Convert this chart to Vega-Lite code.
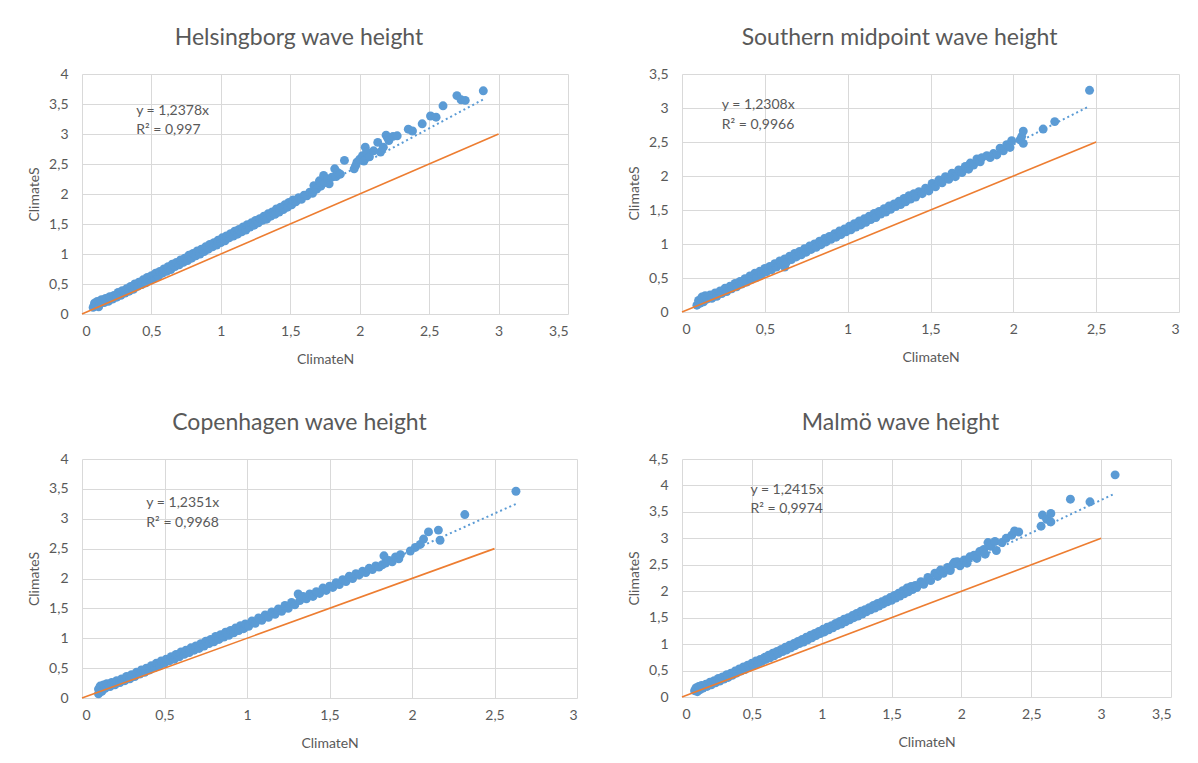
{
  "$schema": "https://vega.github.io/schema/vega-lite/v6.json",
  "background": "white",
  "padding": {"left": 27, "top": 27, "right": 5, "bottom": 5},
  "columns": 2,
  "bounds": "flush",
  "spacing": {"column": 105, "row": 145},
  "config": {
    "font": "Lato",
    "view": {"stroke": null},
    "axis": {
      "grid": true, "gridColor": "#d9d9d9", "gridWidth": 1,
      "domain": false, "ticks": false, "labelOverlap": false,
      "labelColor": "#595959", "labelFontSize": 14,
      "titleColor": "#595959", "titleFontSize": 14, "titleFontWeight": "normal"
    },
    "axisX": {"titlePadding": 14, "labelPadding": 10},
    "axisY": {"titlePadding": 7, "labelPadding": 14},
    "title": {"fontSize": 23, "fontWeight": "normal", "color": "#595959", "offset": 17, "anchor": "middle"}
  },
  "datasets": {
    "waves": [
      {"site":"HBG","ClimateN":0.08,"ClimateS":0.11},{"site":"HBG","ClimateN":0.09,"ClimateS":0.18},{"site":"HBG","ClimateN":0.10,"ClimateS":0.14},{"site":"HBG","ClimateN":0.11,"ClimateS":0.21},{"site":"HBG","ClimateN":0.12,"ClimateS":0.12},{"site":"HBG","ClimateN":0.13,"ClimateS":0.17},{"site":"HBG","ClimateN":0.14,"ClimateS":0.24},{"site":"HBG","ClimateN":0.16,"ClimateS":0.19},{"site":"HBG","ClimateN":0.17,"ClimateS":0.26},{"site":"HBG","ClimateN":0.19,"ClimateS":0.21},{"site":"HBG","ClimateN":0.20,"ClimateS":0.29},{"site":"HBG","ClimateN":0.22,"ClimateS":0.25},{"site":"HBG","ClimateN":0.23,"ClimateS":0.31},{"site":"HBG","ClimateN":0.25,"ClimateS":0.28},{"site":"HBG","ClimateN":0.26,"ClimateS":0.36},{"site":"HBG","ClimateN":0.28,"ClimateS":0.31},{"site":"HBG","ClimateN":0.29,"ClimateS":0.39},{"site":"HBG","ClimateN":0.31,"ClimateS":0.35},{"site":"HBG","ClimateN":0.32,"ClimateS":0.42},{"site":"HBG","ClimateN":0.34,"ClimateS":0.38},{"site":"HBG","ClimateN":0.35,"ClimateS":0.46},{"site":"HBG","ClimateN":0.37,"ClimateS":0.41},{"site":"HBG","ClimateN":0.38,"ClimateS":0.50},{"site":"HBG","ClimateN":0.40,"ClimateS":0.46},{"site":"HBG","ClimateN":0.41,"ClimateS":0.53},{"site":"HBG","ClimateN":0.43,"ClimateS":0.49},{"site":"HBG","ClimateN":0.44,"ClimateS":0.57},{"site":"HBG","ClimateN":0.46,"ClimateS":0.52},{"site":"HBG","ClimateN":0.47,"ClimateS":0.61},{"site":"HBG","ClimateN":0.49,"ClimateS":0.56},{"site":"HBG","ClimateN":0.50,"ClimateS":0.64},{"site":"HBG","ClimateN":0.52,"ClimateS":0.60},{"site":"HBG","ClimateN":0.53,"ClimateS":0.68},{"site":"HBG","ClimateN":0.55,"ClimateS":0.63},{"site":"HBG","ClimateN":0.56,"ClimateS":0.71},{"site":"HBG","ClimateN":0.58,"ClimateS":0.68},{"site":"HBG","ClimateN":0.59,"ClimateS":0.75},{"site":"HBG","ClimateN":0.61,"ClimateS":0.71},{"site":"HBG","ClimateN":0.62,"ClimateS":0.79},{"site":"HBG","ClimateN":0.64,"ClimateS":0.74},{"site":"HBG","ClimateN":0.65,"ClimateS":0.83},{"site":"HBG","ClimateN":0.67,"ClimateS":0.79},{"site":"HBG","ClimateN":0.68,"ClimateS":0.86},{"site":"HBG","ClimateN":0.70,"ClimateS":0.82},{"site":"HBG","ClimateN":0.71,"ClimateS":0.90},{"site":"HBG","ClimateN":0.73,"ClimateS":0.86},{"site":"HBG","ClimateN":0.74,"ClimateS":0.93},{"site":"HBG","ClimateN":0.76,"ClimateS":0.89},{"site":"HBG","ClimateN":0.77,"ClimateS":0.98},{"site":"HBG","ClimateN":0.79,"ClimateS":0.93},{"site":"HBG","ClimateN":0.80,"ClimateS":1.01},{"site":"HBG","ClimateN":0.82,"ClimateS":0.97},{"site":"HBG","ClimateN":0.83,"ClimateS":1.05},{"site":"HBG","ClimateN":0.85,"ClimateS":1.00},{"site":"HBG","ClimateN":0.86,"ClimateS":1.08},{"site":"HBG","ClimateN":0.88,"ClimateS":1.04},{"site":"HBG","ClimateN":0.89,"ClimateS":1.12},{"site":"HBG","ClimateN":0.91,"ClimateS":1.08},{"site":"HBG","ClimateN":0.92,"ClimateS":1.16},{"site":"HBG","ClimateN":0.94,"ClimateS":1.12},{"site":"HBG","ClimateN":0.95,"ClimateS":1.19},{"site":"HBG","ClimateN":0.97,"ClimateS":1.15},{"site":"HBG","ClimateN":0.98,"ClimateS":1.23},{"site":"HBG","ClimateN":1.00,"ClimateS":1.19},{"site":"HBG","ClimateN":1.01,"ClimateS":1.27},{"site":"HBG","ClimateN":1.03,"ClimateS":1.22},{"site":"HBG","ClimateN":1.04,"ClimateS":1.30},{"site":"HBG","ClimateN":1.06,"ClimateS":1.27},{"site":"HBG","ClimateN":1.07,"ClimateS":1.34},{"site":"HBG","ClimateN":1.09,"ClimateS":1.30},{"site":"HBG","ClimateN":1.10,"ClimateS":1.38},{"site":"HBG","ClimateN":1.12,"ClimateS":1.33},{"site":"HBG","ClimateN":1.13,"ClimateS":1.41},{"site":"HBG","ClimateN":1.15,"ClimateS":1.37},{"site":"HBG","ClimateN":1.16,"ClimateS":1.45},{"site":"HBG","ClimateN":1.18,"ClimateS":1.40},{"site":"HBG","ClimateN":1.19,"ClimateS":1.49},{"site":"HBG","ClimateN":1.21,"ClimateS":1.45},{"site":"HBG","ClimateN":1.22,"ClimateS":1.52},{"site":"HBG","ClimateN":1.24,"ClimateS":1.48},{"site":"HBG","ClimateN":1.25,"ClimateS":1.56},{"site":"HBG","ClimateN":1.27,"ClimateS":1.52},{"site":"HBG","ClimateN":1.28,"ClimateS":1.59},{"site":"HBG","ClimateN":1.30,"ClimateS":1.56},{"site":"HBG","ClimateN":1.31,"ClimateS":1.63},{"site":"HBG","ClimateN":1.33,"ClimateS":1.58},{"site":"HBG","ClimateN":1.34,"ClimateS":1.67},{"site":"HBG","ClimateN":1.36,"ClimateS":1.63},{"site":"HBG","ClimateN":1.37,"ClimateS":1.70},{"site":"HBG","ClimateN":1.39,"ClimateS":1.66},{"site":"HBG","ClimateN":1.40,"ClimateS":1.75},{"site":"HBG","ClimateN":1.42,"ClimateS":1.70},{"site":"HBG","ClimateN":1.43,"ClimateS":1.78},{"site":"HBG","ClimateN":1.45,"ClimateS":1.74},{"site":"HBG","ClimateN":1.46,"ClimateS":1.82},{"site":"HBG","ClimateN":1.48,"ClimateS":1.78},{"site":"HBG","ClimateN":1.49,"ClimateS":1.86},{"site":"HBG","ClimateN":1.51,"ClimateS":1.82},{"site":"HBG","ClimateN":1.52,"ClimateS":1.90},{"site":"HBG","ClimateN":1.54,"ClimateS":1.87},{"site":"HBG","ClimateN":1.56,"ClimateS":1.94},{"site":"HBG","ClimateN":1.58,"ClimateS":1.91},{"site":"HBG","ClimateN":1.60,"ClimateS":1.98},{"site":"HBG","ClimateN":1.62,"ClimateS":1.97},{"site":"HBG","ClimateN":1.64,"ClimateS":2.03},{"site":"HBG","ClimateN":1.66,"ClimateS":2.01},{"site":"HBG","ClimateN":1.67,"ClimateS":2.14},{"site":"HBG","ClimateN":1.69,"ClimateS":2.08},{"site":"HBG","ClimateN":1.71,"ClimateS":2.22},{"site":"HBG","ClimateN":1.72,"ClimateS":2.13},{"site":"HBG","ClimateN":1.74,"ClimateS":2.31},{"site":"HBG","ClimateN":1.75,"ClimateS":2.19},{"site":"HBG","ClimateN":1.77,"ClimateS":2.25},{"site":"HBG","ClimateN":1.78,"ClimateS":2.17},{"site":"HBG","ClimateN":1.80,"ClimateS":2.28},{"site":"HBG","ClimateN":1.82,"ClimateS":2.42},{"site":"HBG","ClimateN":1.83,"ClimateS":2.29},{"site":"HBG","ClimateN":1.84,"ClimateS":2.36},{"site":"HBG","ClimateN":1.86,"ClimateS":2.33},{"site":"HBG","ClimateN":1.89,"ClimateS":2.56},{"site":"HBG","ClimateN":1.96,"ClimateS":2.42},{"site":"HBG","ClimateN":1.97,"ClimateS":2.47},{"site":"HBG","ClimateN":1.98,"ClimateS":2.53},{"site":"HBG","ClimateN":2.00,"ClimateS":2.58},{"site":"HBG","ClimateN":2.02,"ClimateS":2.64},{"site":"HBG","ClimateN":2.03,"ClimateS":2.55},{"site":"HBG","ClimateN":2.04,"ClimateS":2.78},{"site":"HBG","ClimateN":2.05,"ClimateS":2.70},{"site":"HBG","ClimateN":2.07,"ClimateS":2.62},{"site":"HBG","ClimateN":2.10,"ClimateS":2.72},{"site":"HBG","ClimateN":2.13,"ClimateS":2.86},{"site":"HBG","ClimateN":2.15,"ClimateS":2.70},{"site":"HBG","ClimateN":2.17,"ClimateS":2.78},{"site":"HBG","ClimateN":2.19,"ClimateS":2.98},{"site":"HBG","ClimateN":2.20,"ClimateS":2.94},{"site":"HBG","ClimateN":2.21,"ClimateS":2.89},{"site":"HBG","ClimateN":2.24,"ClimateS":2.96},{"site":"HBG","ClimateN":2.27,"ClimateS":2.97},{"site":"HBG","ClimateN":2.35,"ClimateS":3.08},{"site":"HBG","ClimateN":2.38,"ClimateS":3.05},{"site":"HBG","ClimateN":2.45,"ClimateS":3.17},{"site":"HBG","ClimateN":2.51,"ClimateS":3.30},{"site":"HBG","ClimateN":2.55,"ClimateS":3.28},{"site":"HBG","ClimateN":2.60,"ClimateS":3.47},{"site":"HBG","ClimateN":2.70,"ClimateS":3.64},{"site":"HBG","ClimateN":2.73,"ClimateS":3.57},{"site":"HBG","ClimateN":2.76,"ClimateS":3.56},{"site":"HBG","ClimateN":2.89,"ClimateS":3.72},

      {"site":"SMP","ClimateN":0.09,"ClimateS":0.10},{"site":"SMP","ClimateN":0.10,"ClimateS":0.17},{"site":"SMP","ClimateN":0.11,"ClimateS":0.13},{"site":"SMP","ClimateN":0.12,"ClimateS":0.22},{"site":"SMP","ClimateN":0.13,"ClimateS":0.15},{"site":"SMP","ClimateN":0.14,"ClimateS":0.24},{"site":"SMP","ClimateN":0.15,"ClimateS":0.19},{"site":"SMP","ClimateN":0.17,"ClimateS":0.25},{"site":"SMP","ClimateN":0.18,"ClimateS":0.20},{"site":"SMP","ClimateN":0.20,"ClimateS":0.28},{"site":"SMP","ClimateN":0.21,"ClimateS":0.23},{"site":"SMP","ClimateN":0.23,"ClimateS":0.31},{"site":"SMP","ClimateN":0.24,"ClimateS":0.27},{"site":"SMP","ClimateN":0.26,"ClimateS":0.35},{"site":"SMP","ClimateN":0.27,"ClimateS":0.30},{"site":"SMP","ClimateN":0.29,"ClimateS":0.38},{"site":"SMP","ClimateN":0.30,"ClimateS":0.34},{"site":"SMP","ClimateN":0.32,"ClimateS":0.42},{"site":"SMP","ClimateN":0.33,"ClimateS":0.37},{"site":"SMP","ClimateN":0.35,"ClimateS":0.45},{"site":"SMP","ClimateN":0.36,"ClimateS":0.41},{"site":"SMP","ClimateN":0.38,"ClimateS":0.49},{"site":"SMP","ClimateN":0.39,"ClimateS":0.44},{"site":"SMP","ClimateN":0.41,"ClimateS":0.53},{"site":"SMP","ClimateN":0.42,"ClimateS":0.48},{"site":"SMP","ClimateN":0.44,"ClimateS":0.57},{"site":"SMP","ClimateN":0.45,"ClimateS":0.51},{"site":"SMP","ClimateN":0.47,"ClimateS":0.60},{"site":"SMP","ClimateN":0.48,"ClimateS":0.55},{"site":"SMP","ClimateN":0.50,"ClimateS":0.64},{"site":"SMP","ClimateN":0.51,"ClimateS":0.59},{"site":"SMP","ClimateN":0.53,"ClimateS":0.67},{"site":"SMP","ClimateN":0.54,"ClimateS":0.62},{"site":"SMP","ClimateN":0.56,"ClimateS":0.71},{"site":"SMP","ClimateN":0.57,"ClimateS":0.66},{"site":"SMP","ClimateN":0.59,"ClimateS":0.75},{"site":"SMP","ClimateN":0.60,"ClimateS":0.70},{"site":"SMP","ClimateN":0.62,"ClimateS":0.66},{"site":"SMP","ClimateN":0.62,"ClimateS":0.78},{"site":"SMP","ClimateN":0.63,"ClimateS":0.73},{"site":"SMP","ClimateN":0.65,"ClimateS":0.82},{"site":"SMP","ClimateN":0.66,"ClimateS":0.77},{"site":"SMP","ClimateN":0.68,"ClimateS":0.86},{"site":"SMP","ClimateN":0.69,"ClimateS":0.81},{"site":"SMP","ClimateN":0.71,"ClimateS":0.89},{"site":"SMP","ClimateN":0.72,"ClimateS":0.84},{"site":"SMP","ClimateN":0.74,"ClimateS":0.93},{"site":"SMP","ClimateN":0.75,"ClimateS":0.88},{"site":"SMP","ClimateN":0.77,"ClimateS":0.97},{"site":"SMP","ClimateN":0.78,"ClimateS":0.92},{"site":"SMP","ClimateN":0.80,"ClimateS":1.00},{"site":"SMP","ClimateN":0.81,"ClimateS":0.95},{"site":"SMP","ClimateN":0.83,"ClimateS":1.04},{"site":"SMP","ClimateN":0.84,"ClimateS":0.99},{"site":"SMP","ClimateN":0.86,"ClimateS":1.08},{"site":"SMP","ClimateN":0.87,"ClimateS":1.03},{"site":"SMP","ClimateN":0.89,"ClimateS":1.11},{"site":"SMP","ClimateN":0.90,"ClimateS":1.07},{"site":"SMP","ClimateN":0.92,"ClimateS":1.15},{"site":"SMP","ClimateN":0.93,"ClimateS":1.10},{"site":"SMP","ClimateN":0.95,"ClimateS":1.19},{"site":"SMP","ClimateN":0.96,"ClimateS":1.14},{"site":"SMP","ClimateN":0.98,"ClimateS":1.22},{"site":"SMP","ClimateN":0.99,"ClimateS":1.18},{"site":"SMP","ClimateN":1.01,"ClimateS":1.26},{"site":"SMP","ClimateN":1.02,"ClimateS":1.21},{"site":"SMP","ClimateN":1.04,"ClimateS":1.30},{"site":"SMP","ClimateN":1.05,"ClimateS":1.25},{"site":"SMP","ClimateN":1.07,"ClimateS":1.34},{"site":"SMP","ClimateN":1.08,"ClimateS":1.28},{"site":"SMP","ClimateN":1.10,"ClimateS":1.37},{"site":"SMP","ClimateN":1.11,"ClimateS":1.32},{"site":"SMP","ClimateN":1.13,"ClimateS":1.41},{"site":"SMP","ClimateN":1.14,"ClimateS":1.36},{"site":"SMP","ClimateN":1.16,"ClimateS":1.45},{"site":"SMP","ClimateN":1.17,"ClimateS":1.39},{"site":"SMP","ClimateN":1.19,"ClimateS":1.48},{"site":"SMP","ClimateN":1.20,"ClimateS":1.44},{"site":"SMP","ClimateN":1.22,"ClimateS":1.52},{"site":"SMP","ClimateN":1.23,"ClimateS":1.47},{"site":"SMP","ClimateN":1.25,"ClimateS":1.56},{"site":"SMP","ClimateN":1.26,"ClimateS":1.51},{"site":"SMP","ClimateN":1.28,"ClimateS":1.59},{"site":"SMP","ClimateN":1.29,"ClimateS":1.55},{"site":"SMP","ClimateN":1.31,"ClimateS":1.63},{"site":"SMP","ClimateN":1.32,"ClimateS":1.58},{"site":"SMP","ClimateN":1.34,"ClimateS":1.67},{"site":"SMP","ClimateN":1.35,"ClimateS":1.62},{"site":"SMP","ClimateN":1.37,"ClimateS":1.71},{"site":"SMP","ClimateN":1.38,"ClimateS":1.66},{"site":"SMP","ClimateN":1.40,"ClimateS":1.74},{"site":"SMP","ClimateN":1.41,"ClimateS":1.69},{"site":"SMP","ClimateN":1.43,"ClimateS":1.77},{"site":"SMP","ClimateN":1.45,"ClimateS":1.74},{"site":"SMP","ClimateN":1.47,"ClimateS":1.82},{"site":"SMP","ClimateN":1.49,"ClimateS":1.78},{"site":"SMP","ClimateN":1.51,"ClimateS":1.89},{"site":"SMP","ClimateN":1.53,"ClimateS":1.84},{"site":"SMP","ClimateN":1.55,"ClimateS":1.94},{"site":"SMP","ClimateN":1.57,"ClimateS":1.90},{"site":"SMP","ClimateN":1.59,"ClimateS":1.99},{"site":"SMP","ClimateN":1.61,"ClimateS":1.95},{"site":"SMP","ClimateN":1.63,"ClimateS":2.04},{"site":"SMP","ClimateN":1.65,"ClimateS":1.99},{"site":"SMP","ClimateN":1.67,"ClimateS":2.09},{"site":"SMP","ClimateN":1.69,"ClimateS":2.05},{"site":"SMP","ClimateN":1.71,"ClimateS":2.14},{"site":"SMP","ClimateN":1.73,"ClimateS":2.10},{"site":"SMP","ClimateN":1.74,"ClimateS":2.19},{"site":"SMP","ClimateN":1.76,"ClimateS":2.16},{"site":"SMP","ClimateN":1.78,"ClimateS":2.25},{"site":"SMP","ClimateN":1.80,"ClimateS":2.21},{"site":"SMP","ClimateN":1.81,"ClimateS":2.27},{"site":"SMP","ClimateN":1.84,"ClimateS":2.30},{"site":"SMP","ClimateN":1.86,"ClimateS":2.27},{"site":"SMP","ClimateN":1.88,"ClimateS":2.33},{"site":"SMP","ClimateN":1.90,"ClimateS":2.31},{"site":"SMP","ClimateN":1.92,"ClimateS":2.41},{"site":"SMP","ClimateN":1.94,"ClimateS":2.37},{"site":"SMP","ClimateN":1.96,"ClimateS":2.46},{"site":"SMP","ClimateN":1.98,"ClimateS":2.42},{"site":"SMP","ClimateN":1.99,"ClimateS":2.52},{"site":"SMP","ClimateN":2.04,"ClimateS":2.53},{"site":"SMP","ClimateN":2.05,"ClimateS":2.58},{"site":"SMP","ClimateN":2.06,"ClimateS":2.48},{"site":"SMP","ClimateN":2.06,"ClimateS":2.66},{"site":"SMP","ClimateN":2.18,"ClimateS":2.69},{"site":"SMP","ClimateN":2.25,"ClimateS":2.80},{"site":"SMP","ClimateN":2.46,"ClimateS":3.26},

      {"site":"CPH","ClimateN":0.10,"ClimateS":0.07},{"site":"CPH","ClimateN":0.10,"ClimateS":0.15},{"site":"CPH","ClimateN":0.11,"ClimateS":0.20},{"site":"CPH","ClimateN":0.12,"ClimateS":0.11},{"site":"CPH","ClimateN":0.13,"ClimateS":0.22},{"site":"CPH","ClimateN":0.14,"ClimateS":0.16},{"site":"CPH","ClimateN":0.15,"ClimateS":0.24},{"site":"CPH","ClimateN":0.17,"ClimateS":0.19},{"site":"CPH","ClimateN":0.18,"ClimateS":0.26},{"site":"CPH","ClimateN":0.20,"ClimateS":0.22},{"site":"CPH","ClimateN":0.21,"ClimateS":0.29},{"site":"CPH","ClimateN":0.23,"ClimateS":0.26},{"site":"CPH","ClimateN":0.24,"ClimateS":0.32},{"site":"CPH","ClimateN":0.26,"ClimateS":0.29},{"site":"CPH","ClimateN":0.27,"ClimateS":0.36},{"site":"CPH","ClimateN":0.29,"ClimateS":0.32},{"site":"CPH","ClimateN":0.30,"ClimateS":0.39},{"site":"CPH","ClimateN":0.32,"ClimateS":0.36},{"site":"CPH","ClimateN":0.33,"ClimateS":0.43},{"site":"CPH","ClimateN":0.35,"ClimateS":0.40},{"site":"CPH","ClimateN":0.36,"ClimateS":0.47},{"site":"CPH","ClimateN":0.38,"ClimateS":0.43},{"site":"CPH","ClimateN":0.39,"ClimateS":0.50},{"site":"CPH","ClimateN":0.41,"ClimateS":0.47},{"site":"CPH","ClimateN":0.42,"ClimateS":0.54},{"site":"CPH","ClimateN":0.44,"ClimateS":0.51},{"site":"CPH","ClimateN":0.45,"ClimateS":0.58},{"site":"CPH","ClimateN":0.47,"ClimateS":0.54},{"site":"CPH","ClimateN":0.48,"ClimateS":0.62},{"site":"CPH","ClimateN":0.50,"ClimateS":0.58},{"site":"CPH","ClimateN":0.51,"ClimateS":0.65},{"site":"CPH","ClimateN":0.53,"ClimateS":0.62},{"site":"CPH","ClimateN":0.54,"ClimateS":0.69},{"site":"CPH","ClimateN":0.56,"ClimateS":0.65},{"site":"CPH","ClimateN":0.57,"ClimateS":0.73},{"site":"CPH","ClimateN":0.59,"ClimateS":0.69},{"site":"CPH","ClimateN":0.60,"ClimateS":0.77},{"site":"CPH","ClimateN":0.62,"ClimateS":0.73},{"site":"CPH","ClimateN":0.63,"ClimateS":0.80},{"site":"CPH","ClimateN":0.65,"ClimateS":0.76},{"site":"CPH","ClimateN":0.66,"ClimateS":0.84},{"site":"CPH","ClimateN":0.68,"ClimateS":0.80},{"site":"CPH","ClimateN":0.69,"ClimateS":0.87},{"site":"CPH","ClimateN":0.71,"ClimateS":0.83},{"site":"CPH","ClimateN":0.72,"ClimateS":0.91},{"site":"CPH","ClimateN":0.74,"ClimateS":0.87},{"site":"CPH","ClimateN":0.75,"ClimateS":0.95},{"site":"CPH","ClimateN":0.77,"ClimateS":0.91},{"site":"CPH","ClimateN":0.78,"ClimateS":0.98},{"site":"CPH","ClimateN":0.80,"ClimateS":0.94},{"site":"CPH","ClimateN":0.81,"ClimateS":1.03},{"site":"CPH","ClimateN":0.83,"ClimateS":0.98},{"site":"CPH","ClimateN":0.84,"ClimateS":1.06},{"site":"CPH","ClimateN":0.86,"ClimateS":1.02},{"site":"CPH","ClimateN":0.87,"ClimateS":1.10},{"site":"CPH","ClimateN":0.89,"ClimateS":1.05},{"site":"CPH","ClimateN":0.90,"ClimateS":1.13},{"site":"CPH","ClimateN":0.92,"ClimateS":1.09},{"site":"CPH","ClimateN":0.93,"ClimateS":1.17},{"site":"CPH","ClimateN":0.95,"ClimateS":1.13},{"site":"CPH","ClimateN":0.96,"ClimateS":1.21},{"site":"CPH","ClimateN":0.98,"ClimateS":1.16},{"site":"CPH","ClimateN":0.99,"ClimateS":1.24},{"site":"CPH","ClimateN":1.01,"ClimateS":1.20},{"site":"CPH","ClimateN":1.03,"ClimateS":1.29},{"site":"CPH","ClimateN":1.05,"ClimateS":1.25},{"site":"CPH","ClimateN":1.07,"ClimateS":1.34},{"site":"CPH","ClimateN":1.09,"ClimateS":1.30},{"site":"CPH","ClimateN":1.11,"ClimateS":1.39},{"site":"CPH","ClimateN":1.13,"ClimateS":1.35},{"site":"CPH","ClimateN":1.15,"ClimateS":1.44},{"site":"CPH","ClimateN":1.17,"ClimateS":1.40},{"site":"CPH","ClimateN":1.19,"ClimateS":1.49},{"site":"CPH","ClimateN":1.21,"ClimateS":1.45},{"site":"CPH","ClimateN":1.23,"ClimateS":1.55},{"site":"CPH","ClimateN":1.25,"ClimateS":1.50},{"site":"CPH","ClimateN":1.27,"ClimateS":1.60},{"site":"CPH","ClimateN":1.29,"ClimateS":1.56},{"site":"CPH","ClimateN":1.31,"ClimateS":1.74},{"site":"CPH","ClimateN":1.32,"ClimateS":1.63},{"site":"CPH","ClimateN":1.34,"ClimateS":1.70},{"site":"CPH","ClimateN":1.36,"ClimateS":1.66},{"site":"CPH","ClimateN":1.38,"ClimateS":1.74},{"site":"CPH","ClimateN":1.40,"ClimateS":1.70},{"site":"CPH","ClimateN":1.42,"ClimateS":1.78},{"site":"CPH","ClimateN":1.44,"ClimateS":1.75},{"site":"CPH","ClimateN":1.46,"ClimateS":1.84},{"site":"CPH","ClimateN":1.48,"ClimateS":1.80},{"site":"CPH","ClimateN":1.50,"ClimateS":1.87},{"site":"CPH","ClimateN":1.52,"ClimateS":1.85},{"site":"CPH","ClimateN":1.54,"ClimateS":1.93},{"site":"CPH","ClimateN":1.56,"ClimateS":1.90},{"site":"CPH","ClimateN":1.58,"ClimateS":1.98},{"site":"CPH","ClimateN":1.60,"ClimateS":1.95},{"site":"CPH","ClimateN":1.62,"ClimateS":2.04},{"site":"CPH","ClimateN":1.64,"ClimateS":2.00},{"site":"CPH","ClimateN":1.66,"ClimateS":2.08},{"site":"CPH","ClimateN":1.68,"ClimateS":2.06},{"site":"CPH","ClimateN":1.70,"ClimateS":2.12},{"site":"CPH","ClimateN":1.72,"ClimateS":2.10},{"site":"CPH","ClimateN":1.74,"ClimateS":2.17},{"site":"CPH","ClimateN":1.76,"ClimateS":2.15},{"site":"CPH","ClimateN":1.78,"ClimateS":2.21},{"site":"CPH","ClimateN":1.80,"ClimateS":2.19},{"site":"CPH","ClimateN":1.82,"ClimateS":2.23},{"site":"CPH","ClimateN":1.83,"ClimateS":2.38},{"site":"CPH","ClimateN":1.84,"ClimateS":2.26},{"site":"CPH","ClimateN":1.86,"ClimateS":2.30},{"site":"CPH","ClimateN":1.88,"ClimateS":2.28},{"site":"CPH","ClimateN":1.90,"ClimateS":2.36},{"site":"CPH","ClimateN":1.92,"ClimateS":2.33},{"site":"CPH","ClimateN":1.93,"ClimateS":2.40},{"site":"CPH","ClimateN":1.99,"ClimateS":2.46},{"site":"CPH","ClimateN":2.02,"ClimateS":2.52},{"site":"CPH","ClimateN":2.05,"ClimateS":2.57},{"site":"CPH","ClimateN":2.07,"ClimateS":2.66},{"site":"CPH","ClimateN":2.10,"ClimateS":2.78},{"site":"CPH","ClimateN":2.16,"ClimateS":2.81},{"site":"CPH","ClimateN":2.17,"ClimateS":2.64},{"site":"CPH","ClimateN":2.32,"ClimateS":3.07},{"site":"CPH","ClimateN":2.63,"ClimateS":3.46},

      {"site":"MMO","ClimateN":0.09,"ClimateS":0.12},{"site":"MMO","ClimateN":0.10,"ClimateS":0.17},{"site":"MMO","ClimateN":0.11,"ClimateS":0.10},{"site":"MMO","ClimateN":0.12,"ClimateS":0.20},{"site":"MMO","ClimateN":0.13,"ClimateS":0.14},{"site":"MMO","ClimateN":0.14,"ClimateS":0.22},{"site":"MMO","ClimateN":0.15,"ClimateS":0.17},{"site":"MMO","ClimateN":0.17,"ClimateS":0.24},{"site":"MMO","ClimateN":0.18,"ClimateS":0.20},{"site":"MMO","ClimateN":0.20,"ClimateS":0.28},{"site":"MMO","ClimateN":0.21,"ClimateS":0.23},{"site":"MMO","ClimateN":0.23,"ClimateS":0.31},{"site":"MMO","ClimateN":0.24,"ClimateS":0.27},{"site":"MMO","ClimateN":0.26,"ClimateS":0.35},{"site":"MMO","ClimateN":0.27,"ClimateS":0.30},{"site":"MMO","ClimateN":0.29,"ClimateS":0.38},{"site":"MMO","ClimateN":0.30,"ClimateS":0.34},{"site":"MMO","ClimateN":0.32,"ClimateS":0.42},{"site":"MMO","ClimateN":0.33,"ClimateS":0.37},{"site":"MMO","ClimateN":0.35,"ClimateS":0.45},{"site":"MMO","ClimateN":0.36,"ClimateS":0.41},{"site":"MMO","ClimateN":0.38,"ClimateS":0.49},{"site":"MMO","ClimateN":0.39,"ClimateS":0.45},{"site":"MMO","ClimateN":0.41,"ClimateS":0.53},{"site":"MMO","ClimateN":0.42,"ClimateS":0.49},{"site":"MMO","ClimateN":0.44,"ClimateS":0.57},{"site":"MMO","ClimateN":0.45,"ClimateS":0.52},{"site":"MMO","ClimateN":0.47,"ClimateS":0.60},{"site":"MMO","ClimateN":0.48,"ClimateS":0.56},{"site":"MMO","ClimateN":0.50,"ClimateS":0.64},{"site":"MMO","ClimateN":0.51,"ClimateS":0.60},{"site":"MMO","ClimateN":0.53,"ClimateS":0.68},{"site":"MMO","ClimateN":0.54,"ClimateS":0.63},{"site":"MMO","ClimateN":0.56,"ClimateS":0.71},{"site":"MMO","ClimateN":0.57,"ClimateS":0.67},{"site":"MMO","ClimateN":0.59,"ClimateS":0.75},{"site":"MMO","ClimateN":0.60,"ClimateS":0.71},{"site":"MMO","ClimateN":0.62,"ClimateS":0.79},{"site":"MMO","ClimateN":0.63,"ClimateS":0.74},{"site":"MMO","ClimateN":0.65,"ClimateS":0.83},{"site":"MMO","ClimateN":0.66,"ClimateS":0.78},{"site":"MMO","ClimateN":0.68,"ClimateS":0.86},{"site":"MMO","ClimateN":0.69,"ClimateS":0.82},{"site":"MMO","ClimateN":0.71,"ClimateS":0.90},{"site":"MMO","ClimateN":0.72,"ClimateS":0.86},{"site":"MMO","ClimateN":0.74,"ClimateS":0.94},{"site":"MMO","ClimateN":0.75,"ClimateS":0.89},{"site":"MMO","ClimateN":0.77,"ClimateS":0.98},{"site":"MMO","ClimateN":0.78,"ClimateS":0.93},{"site":"MMO","ClimateN":0.80,"ClimateS":1.01},{"site":"MMO","ClimateN":0.81,"ClimateS":0.97},{"site":"MMO","ClimateN":0.83,"ClimateS":1.05},{"site":"MMO","ClimateN":0.84,"ClimateS":1.01},{"site":"MMO","ClimateN":0.86,"ClimateS":1.09},{"site":"MMO","ClimateN":0.87,"ClimateS":1.04},{"site":"MMO","ClimateN":0.89,"ClimateS":1.13},{"site":"MMO","ClimateN":0.90,"ClimateS":1.08},{"site":"MMO","ClimateN":0.92,"ClimateS":1.17},{"site":"MMO","ClimateN":0.93,"ClimateS":1.12},{"site":"MMO","ClimateN":0.95,"ClimateS":1.20},{"site":"MMO","ClimateN":0.96,"ClimateS":1.16},{"site":"MMO","ClimateN":0.98,"ClimateS":1.24},{"site":"MMO","ClimateN":0.99,"ClimateS":1.20},{"site":"MMO","ClimateN":1.01,"ClimateS":1.28},{"site":"MMO","ClimateN":1.02,"ClimateS":1.23},{"site":"MMO","ClimateN":1.04,"ClimateS":1.32},{"site":"MMO","ClimateN":1.05,"ClimateS":1.27},{"site":"MMO","ClimateN":1.07,"ClimateS":1.35},{"site":"MMO","ClimateN":1.08,"ClimateS":1.31},{"site":"MMO","ClimateN":1.10,"ClimateS":1.39},{"site":"MMO","ClimateN":1.11,"ClimateS":1.35},{"site":"MMO","ClimateN":1.13,"ClimateS":1.43},{"site":"MMO","ClimateN":1.14,"ClimateS":1.38},{"site":"MMO","ClimateN":1.16,"ClimateS":1.47},{"site":"MMO","ClimateN":1.17,"ClimateS":1.42},{"site":"MMO","ClimateN":1.19,"ClimateS":1.50},{"site":"MMO","ClimateN":1.20,"ClimateS":1.46},{"site":"MMO","ClimateN":1.22,"ClimateS":1.54},{"site":"MMO","ClimateN":1.23,"ClimateS":1.50},{"site":"MMO","ClimateN":1.25,"ClimateS":1.58},{"site":"MMO","ClimateN":1.26,"ClimateS":1.53},{"site":"MMO","ClimateN":1.28,"ClimateS":1.62},{"site":"MMO","ClimateN":1.29,"ClimateS":1.57},{"site":"MMO","ClimateN":1.31,"ClimateS":1.65},{"site":"MMO","ClimateN":1.32,"ClimateS":1.61},{"site":"MMO","ClimateN":1.34,"ClimateS":1.69},{"site":"MMO","ClimateN":1.35,"ClimateS":1.65},{"site":"MMO","ClimateN":1.37,"ClimateS":1.73},{"site":"MMO","ClimateN":1.38,"ClimateS":1.68},{"site":"MMO","ClimateN":1.40,"ClimateS":1.77},{"site":"MMO","ClimateN":1.41,"ClimateS":1.72},{"site":"MMO","ClimateN":1.43,"ClimateS":1.80},{"site":"MMO","ClimateN":1.44,"ClimateS":1.76},{"site":"MMO","ClimateN":1.46,"ClimateS":1.84},{"site":"MMO","ClimateN":1.47,"ClimateS":1.80},{"site":"MMO","ClimateN":1.49,"ClimateS":1.88},{"site":"MMO","ClimateN":1.50,"ClimateS":1.83},{"site":"MMO","ClimateN":1.52,"ClimateS":1.92},{"site":"MMO","ClimateN":1.53,"ClimateS":1.87},{"site":"MMO","ClimateN":1.55,"ClimateS":1.96},{"site":"MMO","ClimateN":1.56,"ClimateS":1.91},{"site":"MMO","ClimateN":1.58,"ClimateS":2.01},{"site":"MMO","ClimateN":1.59,"ClimateS":1.95},{"site":"MMO","ClimateN":1.61,"ClimateS":2.06},{"site":"MMO","ClimateN":1.62,"ClimateS":1.99},{"site":"MMO","ClimateN":1.64,"ClimateS":2.09},{"site":"MMO","ClimateN":1.65,"ClimateS":2.03},{"site":"MMO","ClimateN":1.67,"ClimateS":2.11},{"site":"MMO","ClimateN":1.68,"ClimateS":2.07},{"site":"MMO","ClimateN":1.71,"ClimateS":2.18},{"site":"MMO","ClimateN":1.73,"ClimateS":2.13},{"site":"MMO","ClimateN":1.76,"ClimateS":2.26},{"site":"MMO","ClimateN":1.78,"ClimateS":2.20},{"site":"MMO","ClimateN":1.81,"ClimateS":2.34},{"site":"MMO","ClimateN":1.83,"ClimateS":2.28},{"site":"MMO","ClimateN":1.85,"ClimateS":2.40},{"site":"MMO","ClimateN":1.87,"ClimateS":2.34},{"site":"MMO","ClimateN":1.90,"ClimateS":2.45},{"site":"MMO","ClimateN":1.92,"ClimateS":2.39},{"site":"MMO","ClimateN":1.94,"ClimateS":2.51},{"site":"MMO","ClimateN":1.95,"ClimateS":2.55},{"site":"MMO","ClimateN":1.97,"ClimateS":2.56},{"site":"MMO","ClimateN":1.99,"ClimateS":2.48},{"site":"MMO","ClimateN":2.02,"ClimateS":2.59},{"site":"MMO","ClimateN":2.04,"ClimateS":2.53},{"site":"MMO","ClimateN":2.06,"ClimateS":2.65},{"site":"MMO","ClimateN":2.09,"ClimateS":2.68},{"site":"MMO","ClimateN":2.11,"ClimateS":2.62},{"site":"MMO","ClimateN":2.13,"ClimateS":2.75},{"site":"MMO","ClimateN":2.16,"ClimateS":2.79},{"site":"MMO","ClimateN":2.17,"ClimateS":2.70},{"site":"MMO","ClimateN":2.19,"ClimateS":2.92},{"site":"MMO","ClimateN":2.21,"ClimateS":2.85},{"site":"MMO","ClimateN":2.24,"ClimateS":2.94},{"site":"MMO","ClimateN":2.25,"ClimateS":2.77},{"site":"MMO","ClimateN":2.29,"ClimateS":2.92},{"site":"MMO","ClimateN":2.32,"ClimateS":3.00},{"site":"MMO","ClimateN":2.36,"ClimateS":3.06},{"site":"MMO","ClimateN":2.38,"ClimateS":3.14},{"site":"MMO","ClimateN":2.41,"ClimateS":3.12},{"site":"MMO","ClimateN":2.57,"ClimateS":3.23},{"site":"MMO","ClimateN":2.58,"ClimateS":3.44},{"site":"MMO","ClimateN":2.61,"ClimateS":3.36},{"site":"MMO","ClimateN":2.64,"ClimateS":3.47},{"site":"MMO","ClimateN":2.64,"ClimateS":3.31},{"site":"MMO","ClimateN":2.78,"ClimateS":3.74},{"site":"MMO","ClimateN":2.92,"ClimateS":3.69},{"site":"MMO","ClimateN":3.10,"ClimateS":4.20}
    ],
    "trend": [
      {"site":"HBG","ClimateN":0.08,"ClimateS":0.099},{"site":"HBG","ClimateN":2.89,"ClimateS":3.577},
      {"site":"SMP","ClimateN":0.09,"ClimateS":0.111},{"site":"SMP","ClimateN":2.46,"ClimateS":3.028},
      {"site":"CPH","ClimateN":0.10,"ClimateS":0.124},{"site":"CPH","ClimateN":2.63,"ClimateS":3.248},
      {"site":"MMO","ClimateN":0.09,"ClimateS":0.112},{"site":"MMO","ClimateN":3.10,"ClimateS":3.849}
    ],
    "parity": [
      {"site":"HBG","ClimateN":0,"ClimateS":0},{"site":"HBG","ClimateN":3,"ClimateS":3},
      {"site":"SMP","ClimateN":0,"ClimateS":0},{"site":"SMP","ClimateN":2.5,"ClimateS":2.5},
      {"site":"CPH","ClimateN":0,"ClimateS":0},{"site":"CPH","ClimateN":2.5,"ClimateS":2.5},
      {"site":"MMO","ClimateN":0,"ClimateS":0},{"site":"MMO","ClimateN":3,"ClimateS":3}
    ],
    "fits": [
      {"site":"HBG","equation":"y = 1,2378x","r2":"R² = 0,997"},
      {"site":"SMP","equation":"y = 1,2308x","r2":"R² = 0,9966"},
      {"site":"CPH","equation":"y = 1,2351x","r2":"R² = 0,9968"},
      {"site":"MMO","equation":"y = 1,2415x","r2":"R² = 0,9974"}
    ]
  },
  "concat": [
    {
      "title": {"text": "Helsingborg wave height", "dx": -26},
      "width": 486, "height": 240,
      "layer": [
        {"data": {"name": "waves"}, "transform": [{"filter": "datum.site === 'HBG'"}],
         "mark": {"type": "circle", "size": 80, "color": "#5b9bd5", "opacity": 1},
         "encoding": {
           "x": {"field": "ClimateN", "type": "quantitative", "scale": {"domain": [0, 3.5], "nice": false}, "axis": {"values": [0, 0.5, 1, 1.5, 2, 2.5, 3, 3.5], "tickCount": 20, "format": ".1~f", "labelOverlap": false, "labelExpr": "replace(datum.label, '.', ',')"}},
           "y": {"field": "ClimateS", "type": "quantitative", "scale": {"domain": [0, 4], "nice": false}, "axis": {"values": [0, 0.5, 1, 1.5, 2, 2.5, 3, 3.5, 4], "tickCount": 20, "format": ".1~f", "labelOverlap": false, "labelExpr": "replace(datum.label, '.', ',')"}}}},
        {"data": {"name": "trend"}, "transform": [{"filter": "datum.site === 'HBG'"}],
         "mark": {"type": "line", "color": "#5b9bd5", "strokeWidth": 2, "strokeDash": [2, 3]},
         "encoding": {"x": {"field": "ClimateN", "type": "quantitative"}, "y": {"field": "ClimateS", "type": "quantitative"}}},
        {"data": {"name": "parity"}, "transform": [{"filter": "datum.site === 'HBG'"}],
         "mark": {"type": "line", "color": "#ed7d31", "strokeWidth": 1.6},
         "encoding": {"x": {"field": "ClimateN", "type": "quantitative"}, "y": {"field": "ClimateS", "type": "quantitative"}}},
        {"data": {"name": "fits"}, "transform": [{"filter": "datum.site === 'HBG'"}],
         "mark": {"type": "text", "align": "left", "baseline": "middle", "fontSize": 14, "color": "#595959"},
         "encoding": {"x": {"datum": 0.39}, "y": {"datum": 3.38}, "text": {"field": "equation"}}},
        {"data": {"name": "fits"}, "transform": [{"filter": "datum.site === 'HBG'"}],
         "mark": {"type": "text", "align": "left", "baseline": "middle", "fontSize": 14, "color": "#595959"},
         "encoding": {"x": {"datum": 0.39}, "y": {"datum": 3.07}, "text": {"field": "r2"}}}
      ]
    },
    {
      "title": {"text": "Southern midpoint wave height", "dx": -31},
      "width": 497, "height": 238,
      "layer": [
        {"data": {"name": "waves"}, "transform": [{"filter": "datum.site === 'SMP'"}],
         "mark": {"type": "circle", "size": 80, "color": "#5b9bd5", "opacity": 1},
         "encoding": {
           "x": {"field": "ClimateN", "type": "quantitative", "scale": {"domain": [0, 3], "nice": false}, "axis": {"values": [0, 0.5, 1, 1.5, 2, 2.5, 3], "tickCount": 20, "format": ".1~f", "labelOverlap": false, "labelExpr": "replace(datum.label, '.', ',')"}},
           "y": {"field": "ClimateS", "type": "quantitative", "scale": {"domain": [0, 3.5], "nice": false}, "axis": {"values": [0, 0.5, 1, 1.5, 2, 2.5, 3, 3.5], "tickCount": 20, "format": ".1~f", "labelOverlap": false, "labelExpr": "replace(datum.label, '.', ',')"}}}},
        {"data": {"name": "trend"}, "transform": [{"filter": "datum.site === 'SMP'"}],
         "mark": {"type": "line", "color": "#5b9bd5", "strokeWidth": 2, "strokeDash": [2, 3]},
         "encoding": {"x": {"field": "ClimateN", "type": "quantitative"}, "y": {"field": "ClimateS", "type": "quantitative"}}},
        {"data": {"name": "parity"}, "transform": [{"filter": "datum.site === 'SMP'"}],
         "mark": {"type": "line", "color": "#ed7d31", "strokeWidth": 1.6},
         "encoding": {"x": {"field": "ClimateN", "type": "quantitative"}, "y": {"field": "ClimateS", "type": "quantitative"}}},
        {"data": {"name": "fits"}, "transform": [{"filter": "datum.site === 'SMP'"}],
         "mark": {"type": "text", "align": "left", "baseline": "middle", "fontSize": 14, "color": "#595959"},
         "encoding": {"x": {"datum": 0.24}, "y": {"datum": 3.04}, "text": {"field": "equation"}}},
        {"data": {"name": "fits"}, "transform": [{"filter": "datum.site === 'SMP'"}],
         "mark": {"type": "text", "align": "left", "baseline": "middle", "fontSize": 14, "color": "#595959"},
         "encoding": {"x": {"datum": 0.24}, "y": {"datum": 2.75}, "text": {"field": "r2"}}}
      ]
    },
    {
      "title": {"text": "Copenhagen wave height", "dx": -30},
      "width": 495, "height": 239,
      "layer": [
        {"data": {"name": "waves"}, "transform": [{"filter": "datum.site === 'CPH'"}],
         "mark": {"type": "circle", "size": 80, "color": "#5b9bd5", "opacity": 1},
         "encoding": {
           "x": {"field": "ClimateN", "type": "quantitative", "scale": {"domain": [0, 3], "nice": false}, "axis": {"values": [0, 0.5, 1, 1.5, 2, 2.5, 3], "tickCount": 20, "format": ".1~f", "labelOverlap": false, "labelExpr": "replace(datum.label, '.', ',')"}},
           "y": {"field": "ClimateS", "type": "quantitative", "scale": {"domain": [0, 4], "nice": false}, "axis": {"values": [0, 0.5, 1, 1.5, 2, 2.5, 3, 3.5, 4], "tickCount": 20, "format": ".1~f", "labelOverlap": false, "labelExpr": "replace(datum.label, '.', ',')"}}}},
        {"data": {"name": "trend"}, "transform": [{"filter": "datum.site === 'CPH'"}],
         "mark": {"type": "line", "color": "#5b9bd5", "strokeWidth": 2, "strokeDash": [2, 3]},
         "encoding": {"x": {"field": "ClimateN", "type": "quantitative"}, "y": {"field": "ClimateS", "type": "quantitative"}}},
        {"data": {"name": "parity"}, "transform": [{"filter": "datum.site === 'CPH'"}],
         "mark": {"type": "line", "color": "#ed7d31", "strokeWidth": 1.6},
         "encoding": {"x": {"field": "ClimateN", "type": "quantitative"}, "y": {"field": "ClimateS", "type": "quantitative"}}},
        {"data": {"name": "fits"}, "transform": [{"filter": "datum.site === 'CPH'"}],
         "mark": {"type": "text", "align": "left", "baseline": "middle", "fontSize": 14, "color": "#595959"},
         "encoding": {"x": {"datum": 0.39}, "y": {"datum": 3.26}, "text": {"field": "equation"}}},
        {"data": {"name": "fits"}, "transform": [{"filter": "datum.site === 'CPH'"}],
         "mark": {"type": "text", "align": "left", "baseline": "middle", "fontSize": 14, "color": "#595959"},
         "encoding": {"x": {"datum": 0.39}, "y": {"datum": 2.93}, "text": {"field": "r2"}}}
      ]
    },
    {
      "title": {"text": "Malmö wave height", "dx": -26},
      "width": 489, "height": 238,
      "layer": [
        {"data": {"name": "waves"}, "transform": [{"filter": "datum.site === 'MMO'"}],
         "mark": {"type": "circle", "size": 80, "color": "#5b9bd5", "opacity": 1},
         "encoding": {
           "x": {"field": "ClimateN", "type": "quantitative", "scale": {"domain": [0, 3.5], "nice": false}, "axis": {"values": [0, 0.5, 1, 1.5, 2, 2.5, 3, 3.5], "tickCount": 20, "format": ".1~f", "labelOverlap": false, "labelExpr": "replace(datum.label, '.', ',')"}},
           "y": {"field": "ClimateS", "type": "quantitative", "scale": {"domain": [0, 4.5], "nice": false}, "axis": {"values": [0, 0.5, 1, 1.5, 2, 2.5, 3, 3.5, 4, 4.5], "tickCount": 20, "format": ".1~f", "labelOverlap": false, "labelExpr": "replace(datum.label, '.', ',')"}}}},
        {"data": {"name": "trend"}, "transform": [{"filter": "datum.site === 'MMO'"}],
         "mark": {"type": "line", "color": "#5b9bd5", "strokeWidth": 2, "strokeDash": [2, 3]},
         "encoding": {"x": {"field": "ClimateN", "type": "quantitative"}, "y": {"field": "ClimateS", "type": "quantitative"}}},
        {"data": {"name": "parity"}, "transform": [{"filter": "datum.site === 'MMO'"}],
         "mark": {"type": "line", "color": "#ed7d31", "strokeWidth": 1.6},
         "encoding": {"x": {"field": "ClimateN", "type": "quantitative"}, "y": {"field": "ClimateS", "type": "quantitative"}}},
        {"data": {"name": "fits"}, "transform": [{"filter": "datum.site === 'MMO'"}],
         "mark": {"type": "text", "align": "left", "baseline": "middle", "fontSize": 14, "color": "#595959"},
         "encoding": {"x": {"datum": 0.49}, "y": {"datum": 3.91}, "text": {"field": "equation"}}},
        {"data": {"name": "fits"}, "transform": [{"filter": "datum.site === 'MMO'"}],
         "mark": {"type": "text", "align": "left", "baseline": "middle", "fontSize": 14, "color": "#595959"},
         "encoding": {"x": {"datum": 0.49}, "y": {"datum": 3.55}, "text": {"field": "r2"}}}
      ]
    }
  ]
}
